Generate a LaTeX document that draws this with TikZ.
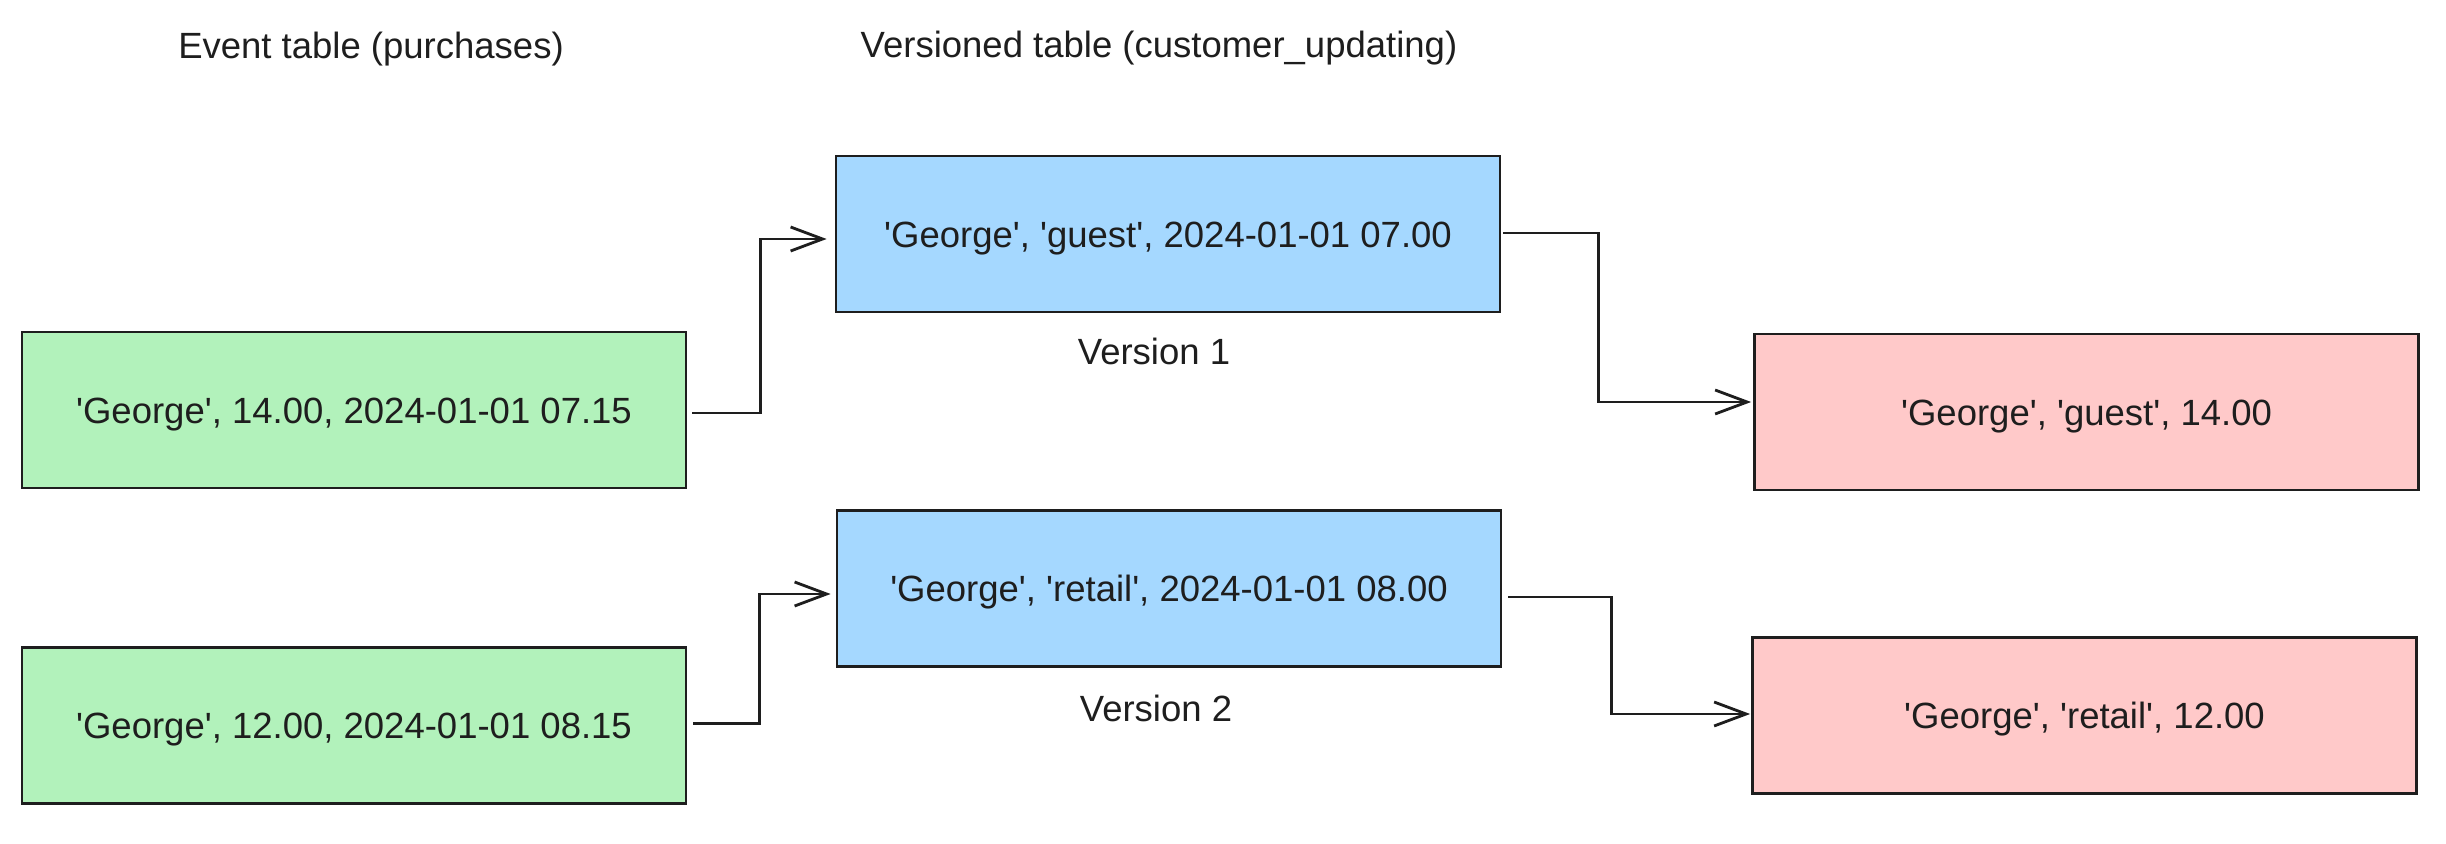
\documentclass[tikz,border=0pt]{standalone}
\usepackage{fontspec}
\setmainfont{Liberation Sans}[Ligatures=TeXOff]
\usetikzlibrary{arrows.meta}
\definecolor{ink}{HTML}{1E1E1E}
\definecolor{fgreen}{HTML}{B2F2BB}
\definecolor{fblue}{HTML}{A5D8FF}
\definecolor{fred}{HTML}{FFC9C9}
\begin{document}
\begin{tikzpicture}[x=0.5pt,y=-0.5pt,
  box/.style={draw=ink,line width=1.4pt,inner sep=0pt,minimum width=332pt,minimum height=78pt,
    font=\fontsize{18.25}{22}\selectfont,text=ink,text height=13.1pt,text depth=0pt},
  lbl/.style={font=\fontsize{18.25}{22}\selectfont,text=ink,inner sep=0pt},
  conn/.style={draw=ink,line width=1.4pt,line join=miter,-{Straight Barb[length=16pt,width=12pt,line width=1.4pt]}}]
\useasboundingbox[fill=white] (0,0) rectangle (2446,844);
\node[lbl,anchor=base] (t1) at (371,59) {Event table (purchases)};
\node[lbl,anchor=base] (t2) at (1159,57.5) {Versioned table (customer\_updating)};
\node[box,fill=fgreen] (g1) at (354,410) {'George', 14.00, 2024-01-01 07.15};
\node[box,fill=fgreen] (g2) at (354,725.5) {'George', 12.00, 2024-01-01 08.15};
\node[box,fill=fblue] (b1) at (1168,234) {'George', 'guest', 2024-01-01 07.00};
\node[box,fill=fblue] (b2) at (1169,588.5) {'George', 'retail', 2024-01-01 08.00};
\node[box,fill=fred] (r1) at (2086.5,412) {'George', 'guest', 14.00};
\node[box,fill=fred] (r2) at (2084.5,715.5) {'George', 'retail', 12.00};
\node[lbl] (v1) at (1154,351) {Version 1};
\node[lbl] (v2) at (1156,708) {Version 2};
\draw[conn] ([xshift=2.5pt,yshift=-1.5pt]g1.east) -- ++(34pt,0) |- ([xshift=-4pt,yshift=-2.5pt]b1.west);
\draw[conn] ([xshift=1pt,yshift=0.5pt]b1.east) -- ++(47.5pt,0) |- ([xshift=-1pt,yshift=5pt]r1.west);
\draw[conn] ([xshift=3pt,yshift=1pt]g2.east) -- ++(33pt,0) |- ([xshift=-2.5pt,yshift=-2.75pt]b2.west);
\draw[conn] ([xshift=3pt,yshift=-4.25pt]b2.east) -- ++(51.5pt,0) |- ([xshift=-0.5pt,yshift=0.75pt]r2.west);
\end{tikzpicture}
\end{document}
